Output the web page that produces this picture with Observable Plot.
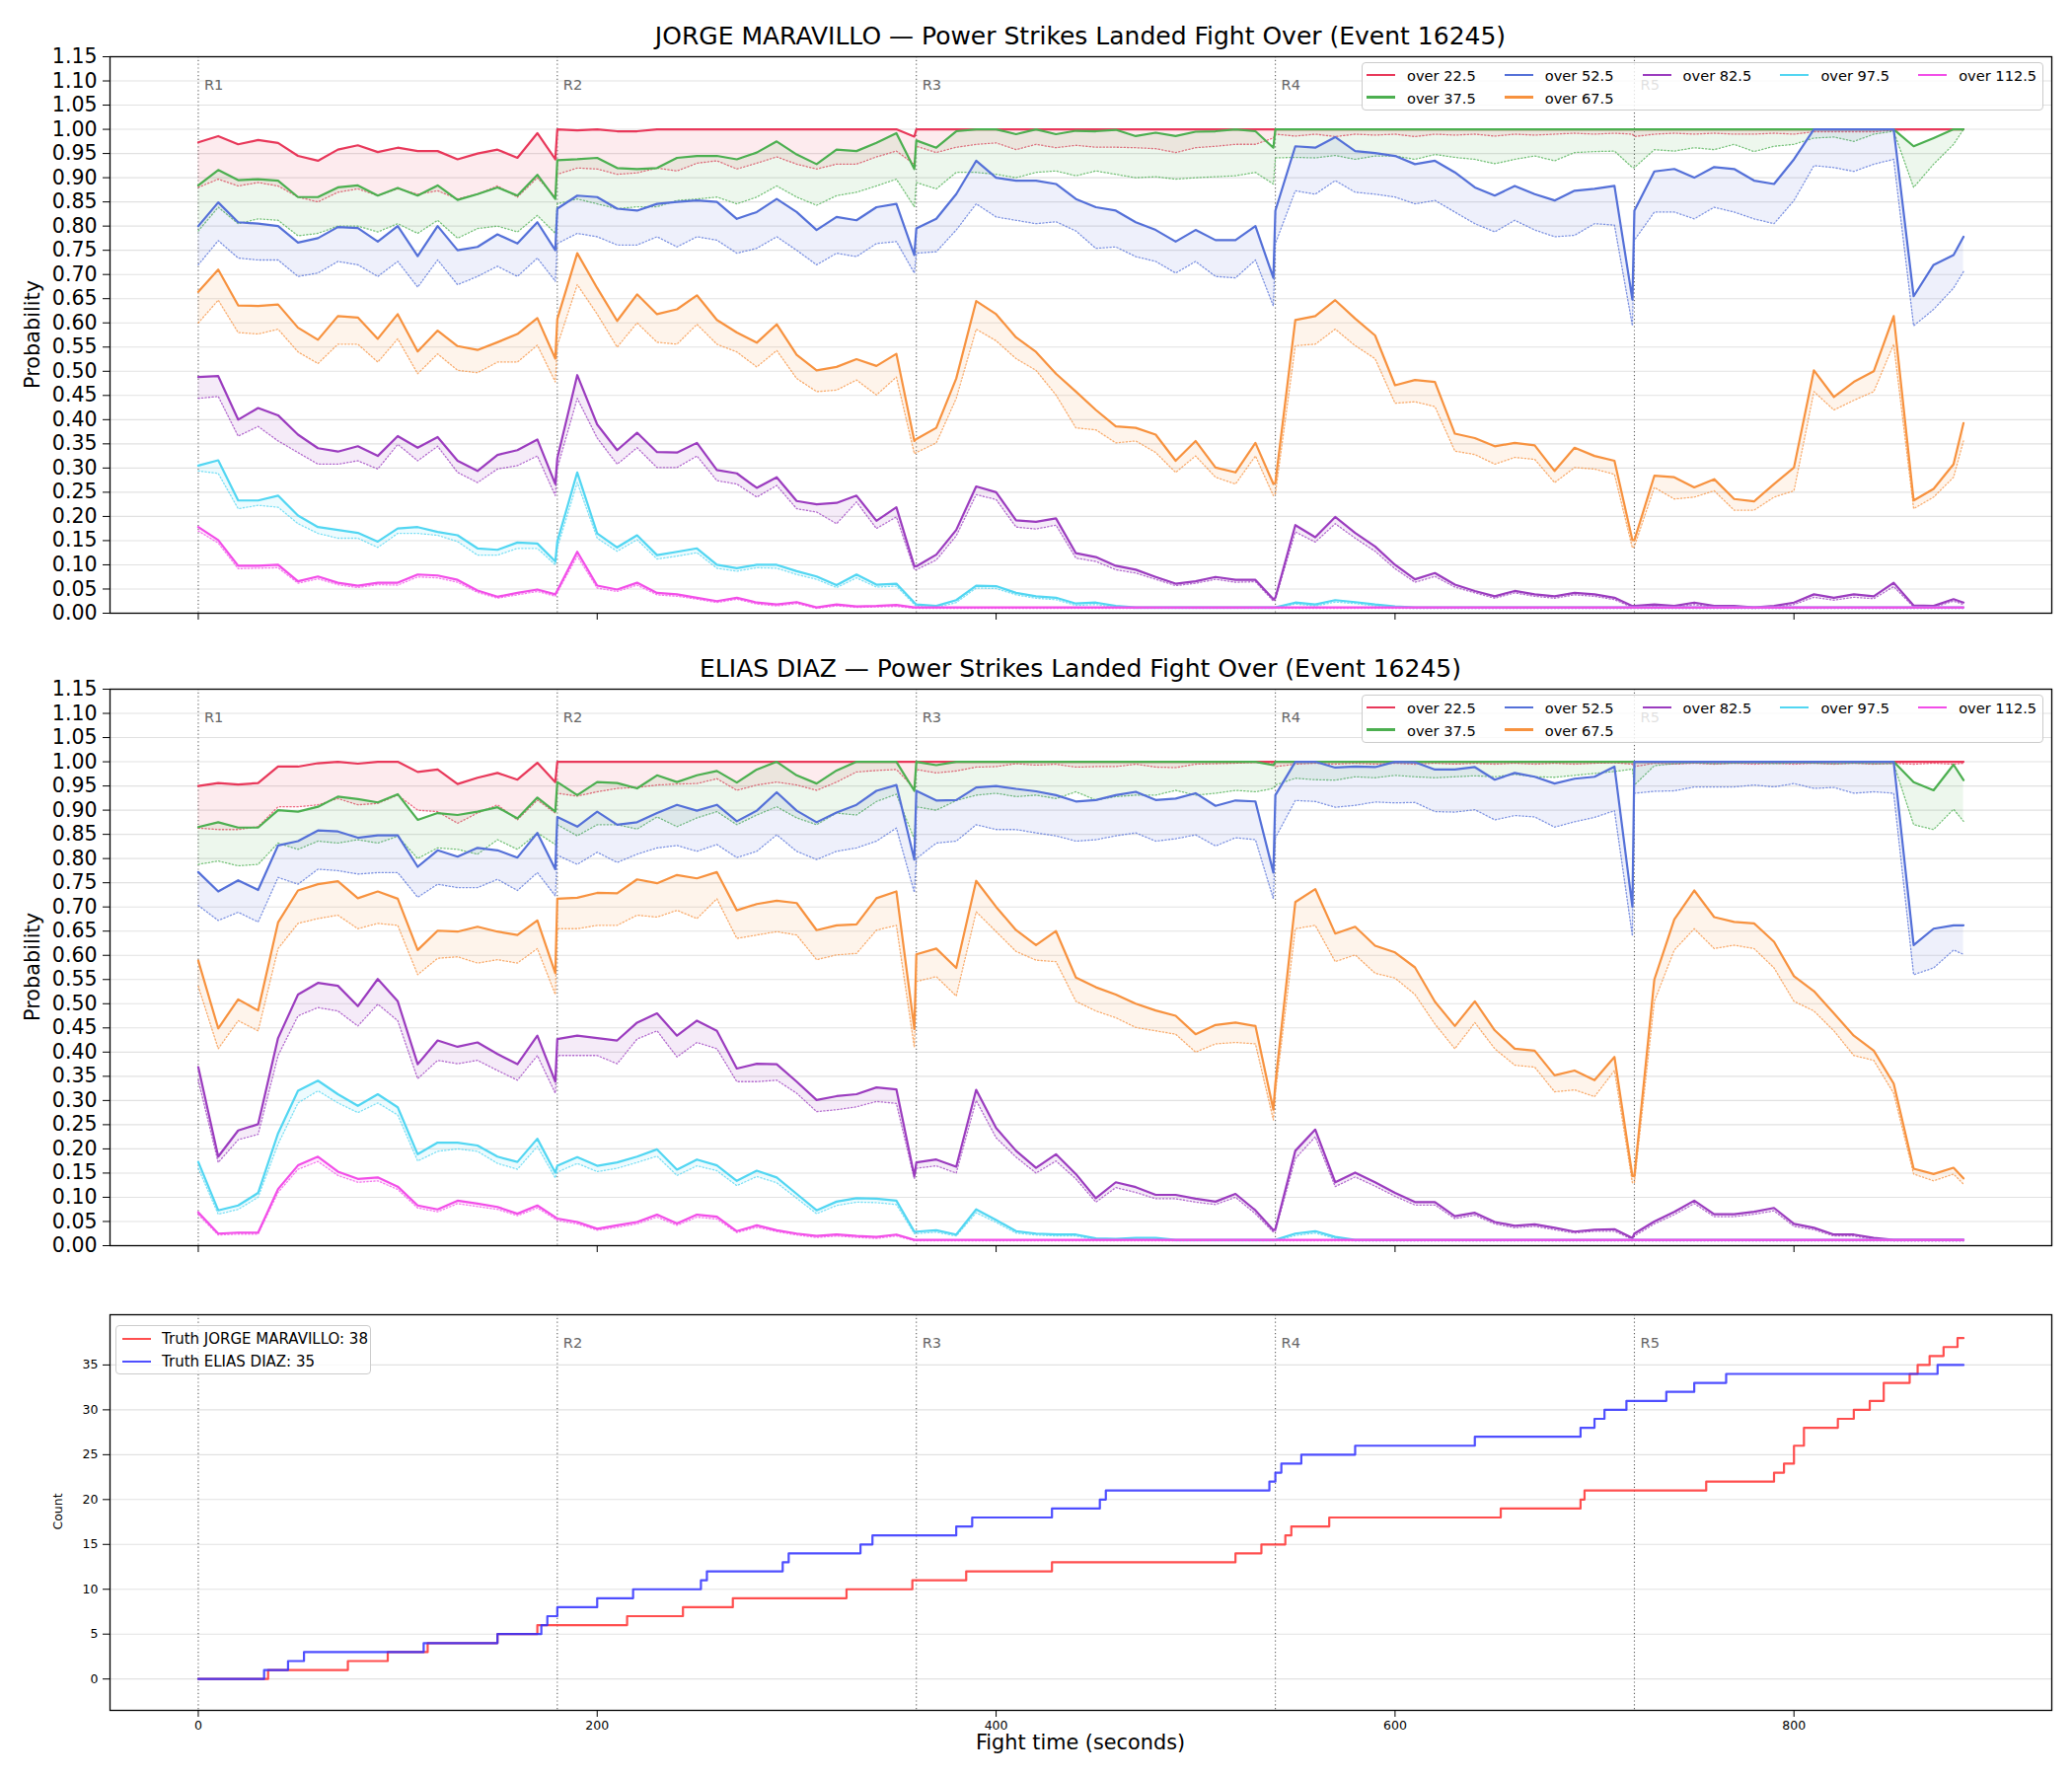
<!DOCTYPE html>
<html><head><meta charset="utf-8">
<script src="https://cdn.jsdelivr.net/npm/d3@7"></script>
<script src="https://cdn.jsdelivr.net/npm/@observablehq/plot@0.6"></script>
<style>
body{margin:0;background:#fff;font-family:"DejaVu Sans",sans-serif;}
#fig{position:relative;width:2100px;height:1800px;overflow:hidden;background:#fff;}
#fig svg{position:absolute;left:0;overflow:visible;}
.t{position:absolute;white-space:nowrap;color:#000;font-family:"DejaVu Sans",sans-serif;}
.ctr{transform:translate(-50%,-50%);}
.rot{transform:translate(-50%,-50%) rotate(-90deg);}
.leg{position:absolute;background:rgba(255,255,255,0.8);border:1px solid #cccccc;border-radius:4px;box-sizing:border-box;}
.li{position:absolute;height:0;}
.li .ln{position:absolute;left:0;top:-1.1px;height:2.2px;}
.li .tx{position:absolute;top:0;transform:translateY(-50%);white-space:nowrap;color:#000;}
</style></head><body><div id="fig"></div>
<script>
// ---------------- data ----------------
const SERIES = ["over 22.5","over 37.5","over 52.5","over 67.5","over 82.5","over 97.5","over 112.5"];
const COLORS = ["#e8385a","#4caf50","#5470d8","#f7923f","#9b3cbf","#52d6f2","#f24ee8"];
const PROB_TICKS = [0,0.05,0.10,0.15,0.20,0.25,0.30,0.35,0.40,0.45,0.50,0.55,0.60,0.65,0.70,0.75,0.80,0.85,0.90,0.95,1.00,1.05,1.10,1.15];
const X_TICKS = [0,200,400,600,800];
const COUNT_TICKS = [0,5,10,15,20,25,30,35];
const ROUND_T = [0,180,360,540,720];
const ROUND_LABELS = ["R1","R2","R3","R4","R5"];

const T = [0,10,20,30,40,50,60,70,80,90,100,110,120,130,140,150,160,170,179,
180,190,200,210,220,230,240,250,260,270,280,290,300,310,320,330,340,350,359,
360,370,380,390,400,410,420,430,440,450,460,470,480,490,500,510,520,530,539,
540,550,560,570,580,590,600,610,620,630,640,650,660,670,680,690,700,710,719,
720,730,740,750,760,770,780,790,800,810,820,830,840,850,860,870,880,885];

// ---- JORGE MARAVILLO ----
const jm_225 = [
0.973,0.986,0.969,0.978,0.972,0.945,0.935,0.958,0.967,0.953,0.962,0.955,0.955,0.938,0.950,0.958,0.941,0.992,0.938,
1,0.998,1,0.996,0.996,1,1,1,1,1,1,1,1,1,1,1,1,1,0.985,
1,1,1,1,1,1,1,1,1,1,1,1,1,1,1,1,1,1,1,
1,1,1,1,1,1,1,1,1,1,1,1,1,1,1,1,1,1,1,
1,1,1,1,1,1,1,1,1,1,1,1,1,1,1,1,1,1];
const jm_225_lo = [
0.88,0.897,0.883,0.89,0.883,0.86,0.85,0.87,0.877,0.863,0.877,0.866,0.873,0.856,0.866,0.883,0.86,0.90,0.86,
0.907,0.92,0.918,0.907,0.91,0.92,0.914,0.93,0.935,0.918,0.93,0.943,0.928,0.918,0.928,0.928,0.943,0.955,0.928,
0.965,0.952,0.963,0.969,0.972,0.958,0.969,0.962,0.967,0.963,0.963,0.962,0.96,0.952,0.962,0.965,0.969,0.969,0.982,
0.99,0.986,0.99,0.985,0.99,0.988,0.99,0.985,0.99,0.988,0.99,0.986,0.99,0.988,0.99,0.992,0.99,0.992,0.99,
0.985,0.99,0.992,0.99,0.992,0.99,0.99,0.992,0.99,0.995,0.995,0.995,0.995,0.998,1,1,1,1];
const jm_375 = [
0.884,0.916,0.895,0.897,0.894,0.86,0.86,0.88,0.884,0.863,0.879,0.863,0.884,0.854,0.866,0.88,0.863,0.906,0.856,
0.936,0.938,0.941,0.92,0.918,0.92,0.941,0.945,0.945,0.938,0.952,0.975,0.948,0.928,0.958,0.955,0.972,0.992,0.918,
0.977,0.962,0.996,1,1,0.99,1,0.99,0.997,0.996,0.999,0.986,0.993,0.986,0.995,0.996,1,0.996,0.962,
1,1,1,1,1,1,1,1,1,1,1,1,1,1,1,1,1,1,1,
1,1,1,1,1,1,1,1,1,1,1,1,1,1,0.965,0.982,1,1];
const jm_375_lo = [
0.79,0.839,0.805,0.815,0.812,0.78,0.785,0.80,0.80,0.788,0.805,0.785,0.812,0.775,0.795,0.80,0.788,0.822,0.785,
0.846,0.856,0.846,0.836,0.84,0.84,0.853,0.856,0.86,0.846,0.86,0.883,0.86,0.843,0.863,0.87,0.883,0.897,0.84,
0.89,0.877,0.911,0.911,0.907,0.90,0.911,0.914,0.904,0.914,0.907,0.90,0.902,0.897,0.90,0.902,0.904,0.911,0.887,
0.941,0.942,0.941,0.946,0.938,0.945,0.945,0.938,0.948,0.942,0.938,0.929,0.938,0.945,0.935,0.952,0.954,0.955,0.921,
0.921,0.958,0.955,0.962,0.958,0.969,0.954,0.965,0.969,0.982,0.984,0.975,0.99,0.996,0.88,0.928,0.969,1.0];
const jm_525 = [
0.80,0.849,0.808,0.805,0.80,0.766,0.775,0.798,0.796,0.768,0.80,0.738,0.80,0.75,0.757,0.783,0.764,0.808,0.75,
0.836,0.863,0.86,0.836,0.832,0.846,0.85,0.853,0.85,0.815,0.829,0.856,0.829,0.792,0.819,0.812,0.839,0.846,0.74,
0.795,0.815,0.866,0.935,0.90,0.894,0.894,0.887,0.856,0.839,0.832,0.808,0.792,0.768,0.792,0.771,0.771,0.80,0.693,
0.832,0.965,0.962,0.984,0.955,0.951,0.945,0.928,0.935,0.911,0.88,0.863,0.883,0.866,0.853,0.873,0.877,0.883,0.648,
0.832,0.913,0.918,0.90,0.922,0.918,0.894,0.887,0.938,1,1,1,1,1,0.655,0.72,0.74,0.778];
const jm_525_lo = [
0.72,0.77,0.734,0.73,0.73,0.696,0.703,0.727,0.72,0.696,0.727,0.674,0.73,0.679,0.696,0.717,0.696,0.734,0.686,
0.764,0.785,0.778,0.761,0.761,0.778,0.757,0.778,0.771,0.744,0.754,0.778,0.75,0.72,0.744,0.737,0.764,0.768,0.703,
0.744,0.747,0.792,0.846,0.819,0.812,0.805,0.809,0.79,0.754,0.757,0.737,0.727,0.703,0.727,0.696,0.693,0.73,0.635,
0.764,0.873,0.866,0.894,0.87,0.866,0.86,0.846,0.853,0.829,0.805,0.788,0.812,0.792,0.778,0.781,0.805,0.802,0.594,
0.771,0.829,0.829,0.815,0.839,0.829,0.815,0.805,0.853,0.925,0.921,0.913,0.928,0.938,0.594,0.628,0.672,0.706];
const jm_675 = [
0.664,0.71,0.636,0.635,0.638,0.59,0.565,0.614,0.611,0.567,0.618,0.541,0.584,0.552,0.544,0.56,0.577,0.61,0.526,
0.608,0.744,0.672,0.604,0.659,0.618,0.628,0.657,0.606,0.58,0.559,0.597,0.534,0.502,0.509,0.525,0.511,0.536,0.356,
0.36,0.383,0.485,0.645,0.618,0.57,0.54,0.495,0.458,0.42,0.386,0.383,0.369,0.315,0.356,0.301,0.291,0.352,0.267,
0.27,0.606,0.614,0.647,0.609,0.574,0.471,0.482,0.478,0.371,0.362,0.345,0.352,0.347,0.294,0.342,0.325,0.315,0.151,
0.151,0.284,0.281,0.26,0.277,0.236,0.231,0.267,0.301,0.502,0.447,0.478,0.50,0.614,0.233,0.257,0.308,0.393];
const jm_675_lo = [
0.60,0.647,0.58,0.577,0.587,0.54,0.516,0.556,0.556,0.519,0.567,0.495,0.536,0.502,0.497,0.519,0.519,0.554,0.478,
0.553,0.679,0.618,0.55,0.60,0.56,0.556,0.597,0.556,0.54,0.509,0.543,0.485,0.458,0.461,0.482,0.451,0.488,0.33,
0.332,0.352,0.444,0.587,0.563,0.526,0.502,0.451,0.383,0.379,0.352,0.356,0.332,0.291,0.325,0.281,0.267,0.325,0.243,
0.247,0.553,0.556,0.587,0.553,0.526,0.434,0.437,0.427,0.335,0.328,0.308,0.322,0.318,0.27,0.301,0.298,0.287,0.135,
0.138,0.26,0.236,0.24,0.253,0.213,0.213,0.24,0.253,0.458,0.42,0.44,0.458,0.556,0.216,0.24,0.281,0.356];
const jm_825 = [
0.488,0.49,0.40,0.424,0.409,0.369,0.341,0.334,0.345,0.325,0.366,0.342,0.364,0.315,0.294,0.327,0.337,0.359,0.267,
0.32,0.492,0.39,0.337,0.373,0.333,0.332,0.352,0.296,0.289,0.259,0.281,0.232,0.225,0.228,0.243,0.191,0.219,0.097,
0.097,0.121,0.172,0.262,0.25,0.192,0.189,0.196,0.124,0.116,0.098,0.09,0.075,0.061,0.066,0.075,0.069,0.069,0.029,
0.032,0.182,0.157,0.199,0.166,0.138,0.10,0.07,0.083,0.059,0.046,0.035,0.046,0.039,0.035,0.042,0.039,0.032,0.015,
0.015,0.018,0.015,0.022,0.015,0.015,0.012,0.015,0.022,0.039,0.032,0.039,0.035,0.063,0.016,0.015,0.029,0.022];
const jm_825_lo = [
0.444,0.448,0.366,0.386,0.356,0.332,0.308,0.308,0.315,0.298,0.349,0.315,0.345,0.291,0.27,0.298,0.305,0.325,0.243,
0.30,0.444,0.362,0.308,0.342,0.301,0.301,0.325,0.274,0.267,0.24,0.264,0.216,0.209,0.185,0.23,0.175,0.199,0.09,
0.09,0.11,0.16,0.245,0.235,0.178,0.174,0.182,0.114,0.107,0.09,0.083,0.07,0.057,0.062,0.07,0.064,0.065,0.025,
0.028,0.168,0.147,0.185,0.155,0.128,0.092,0.064,0.076,0.054,0.042,0.031,0.042,0.035,0.031,0.038,0.035,0.028,0.012,
0.012,0.014,0.012,0.018,0.012,0.012,0.01,0.012,0.018,0.033,0.027,0.033,0.03,0.055,0.013,0.012,0.025,0.018];
const jm_975 = [
0.305,0.316,0.233,0.233,0.243,0.202,0.178,0.172,0.166,0.148,0.175,0.178,0.168,0.161,0.134,0.131,0.146,0.144,0.107,
0.148,0.291,0.165,0.136,0.161,0.12,0.127,0.134,0.10,0.093,0.10,0.10,0.087,0.076,0.058,0.08,0.059,0.061,0.022,
0.018,0.015,0.027,0.057,0.056,0.042,0.035,0.032,0.02,0.022,0.015,0.012,0.012,0.012,0.012,0.012,0.012,0.012,0.012,
0.012,0.022,0.018,0.027,0.023,0.018,0.014,0.012,0.012,0.012,0.012,0.012,0.012,0.012,0.012,0.012,0.012,0.012,0.012,
0.012,0.012,0.012,0.012,0.012,0.012,0.012,0.012,0.012,0.012,0.012,0.012,0.012,0.012,0.012,0.012,0.012,0.012];
const jm_975_lo = [
0.294,0.289,0.216,0.223,0.219,0.185,0.165,0.155,0.155,0.136,0.165,0.165,0.161,0.148,0.12,0.12,0.134,0.134,0.10,
0.135,0.27,0.155,0.128,0.152,0.112,0.118,0.125,0.093,0.087,0.094,0.093,0.08,0.07,0.053,0.073,0.054,0.056,0.018,
0.014,0.012,0.022,0.052,0.051,0.038,0.031,0.028,0.016,0.018,0.012,0.01,0.01,0.01,0.01,0.01,0.01,0.01,0.01,
0.01,0.019,0.015,0.023,0.02,0.015,0.011,0.01,0.01,0.01,0.01,0.01,0.01,0.01,0.01,0.01,0.01,0.01,0.01,
0.01,0.01,0.01,0.01,0.01,0.01,0.01,0.01,0.01,0.01,0.01,0.01,0.01,0.01,0.01,0.01,0.01,0.01];
const jm_1125 = [
0.178,0.151,0.098,0.098,0.10,0.066,0.076,0.063,0.057,0.063,0.063,0.08,0.078,0.069,0.047,0.034,0.042,0.049,0.039,
0.047,0.127,0.057,0.049,0.063,0.042,0.039,0.032,0.025,0.032,0.022,0.018,0.023,0.012,0.018,0.014,0.015,0.017,0.012,
0.012,0.012,0.012,0.012,0.012,0.012,0.012,0.012,0.012,0.012,0.012,0.012,0.012,0.012,0.012,0.012,0.012,0.012,0.012,
0.012,0.012,0.012,0.012,0.012,0.012,0.012,0.012,0.012,0.012,0.012,0.012,0.012,0.012,0.012,0.012,0.012,0.012,0.012,
0.012,0.012,0.012,0.012,0.012,0.012,0.012,0.012,0.012,0.012,0.012,0.012,0.012,0.012,0.012,0.012,0.012,0.012];
const jm_1125_lo = [
0.17,0.145,0.092,0.093,0.094,0.062,0.071,0.059,0.053,0.059,0.058,0.075,0.073,0.064,0.043,0.031,0.038,0.045,0.035,
0.043,0.118,0.052,0.045,0.058,0.038,0.035,0.029,0.022,0.029,0.019,0.015,0.02,0.01,0.015,0.012,0.013,0.014,0.01,
0.01,0.01,0.01,0.01,0.01,0.01,0.01,0.01,0.01,0.01,0.01,0.01,0.01,0.01,0.01,0.01,0.01,0.01,0.01,
0.01,0.01,0.01,0.01,0.01,0.01,0.01,0.01,0.01,0.01,0.01,0.01,0.01,0.01,0.01,0.01,0.01,0.01,0.01,
0.01,0.01,0.01,0.01,0.01,0.01,0.01,0.01,0.01,0.01,0.01,0.01,0.01,0.01,0.01,0.01,0.01,0.01];

// ---- ELIAS DIAZ ----
const ed_225 = [
0.95,0.956,0.953,0.956,0.99,0.99,0.997,1,0.996,1,1,0.979,0.984,0.954,0.967,0.977,0.963,0.998,0.958,
1,1,1,1,1,1,1,1,1,1,1,1,1,1,1,1,1,1,1,
1,1,1,1,1,1,1,1,1,1,1,1,1,1,1,1,1,1,1,
1,1,1,1,1,1,1,1,1,1,1,1,1,1,1,1,1,1,1,
1,1,1,1,1,1,1,1,1,1,1,1,1,1,1,1,1,1];
const ed_225_lo = [
0.863,0.86,0.86,0.866,0.907,0.907,0.911,0.924,0.911,0.914,0.931,0.90,0.897,0.873,0.894,0.911,0.88,0.921,0.894,
0.935,0.929,0.938,0.945,0.947,0.952,0.954,0.955,0.965,0.941,0.952,0.958,0.952,0.941,0.958,0.979,0.982,0.984,0.945,
0.984,0.977,0.981,0.989,0.99,0.996,0.993,0.995,0.989,0.99,0.99,0.995,0.989,0.988,0.995,0.996,0.997,0.999,0.996,
0.99,0.995,0.997,0.995,0.997,0.995,0.997,0.995,0.997,0.995,0.997,0.995,0.997,0.995,0.997,0.995,0.997,0.998,0.995,
0.99,0.997,0.995,0.997,0.995,0.997,0.995,0.997,0.995,0.997,0.995,0.997,0.995,0.997,0.995,0.997,0.995,0.997];
const ed_375 = [
0.865,0.875,0.864,0.864,0.90,0.897,0.907,0.928,0.923,0.916,0.933,0.88,0.894,0.89,0.897,0.906,0.883,0.926,0.897,
0.958,0.931,0.958,0.956,0.945,0.972,0.958,0.972,0.981,0.957,0.984,1,0.972,0.955,0.982,1,1,1,0.94,
1,0.993,1,1,1,1,1,1,1,1,1,1,1,1,1,1,1,1,0.993,
1,1,1,1,1,1,1,1,1,1,1,1,1,1,1,1,1,1,1,
1,1,1,1,1,1,1,1,1,1,1,1,1,1,0.958,0.941,0.994,0.962];
const ed_375_lo = [
0.788,0.795,0.785,0.788,0.832,0.819,0.836,0.832,0.839,0.832,0.846,0.80,0.822,0.819,0.809,0.839,0.819,0.853,0.829,
0.87,0.847,0.87,0.87,0.861,0.886,0.866,0.884,0.897,0.87,0.89,0.907,0.884,0.87,0.894,0.89,0.918,0.933,0.84,
0.907,0.90,0.92,0.931,0.935,0.928,0.931,0.924,0.938,0.921,0.928,0.931,0.931,0.941,0.931,0.935,0.941,0.938,0.945,
0.952,0.966,0.963,0.962,0.969,0.967,0.972,0.969,0.967,0.969,0.971,0.969,0.974,0.969,0.968,0.972,0.976,0.98,0.985,
0.952,0.992,0.996,0.998,0.996,0.997,0.998,0.996,0.998,0.997,0.996,0.997,0.996,0.996,0.87,0.86,0.902,0.877];
const ed_525 = [
0.772,0.732,0.755,0.735,0.827,0.836,0.858,0.856,0.843,0.848,0.848,0.783,0.817,0.804,0.822,0.817,0.802,0.853,0.778,
0.886,0.866,0.897,0.87,0.875,0.894,0.911,0.899,0.911,0.877,0.899,0.937,0.899,0.875,0.895,0.911,0.94,0.952,0.798,
0.94,0.92,0.921,0.947,0.95,0.944,0.939,0.931,0.918,0.921,0.931,0.938,0.921,0.924,0.935,0.909,0.92,0.918,0.771,
0.931,1,1,0.988,0.99,0.989,1,0.999,0.984,0.984,0.989,0.963,0.977,0.969,0.955,0.965,0.969,0.99,0.70,
1,1,1,1,1,1,1,1,1,1,1,1,1,1,0.621,0.655,0.662,0.662];
const ed_525_lo = [
0.703,0.672,0.689,0.669,0.761,0.747,0.778,0.775,0.768,0.771,0.771,0.72,0.747,0.74,0.74,0.757,0.734,0.771,0.723,
0.807,0.788,0.813,0.792,0.809,0.822,0.827,0.815,0.829,0.802,0.815,0.849,0.815,0.798,0.815,0.822,0.836,0.863,0.73,
0.80,0.832,0.836,0.87,0.86,0.86,0.853,0.847,0.836,0.839,0.847,0.853,0.836,0.841,0.849,0.826,0.843,0.839,0.717,
0.843,0.92,0.918,0.906,0.91,0.917,0.915,0.916,0.897,0.896,0.901,0.88,0.889,0.886,0.865,0.876,0.885,0.899,0.64,
0.935,0.939,0.94,0.948,0.948,0.948,0.952,0.948,0.955,0.945,0.947,0.935,0.938,0.935,0.56,0.574,0.611,0.602];
const ed_675 = [
0.589,0.449,0.509,0.486,0.668,0.734,0.747,0.753,0.718,0.732,0.717,0.611,0.651,0.649,0.659,0.649,0.642,0.672,0.563,
0.717,0.719,0.729,0.728,0.757,0.749,0.766,0.759,0.772,0.693,0.706,0.713,0.708,0.652,0.662,0.664,0.718,0.732,0.448,
0.602,0.614,0.574,0.754,0.70,0.652,0.621,0.65,0.554,0.534,0.519,0.50,0.486,0.475,0.437,0.456,0.461,0.454,0.281,
0.335,0.71,0.737,0.645,0.659,0.62,0.606,0.575,0.504,0.454,0.505,0.445,0.407,0.403,0.352,0.362,0.342,0.39,0.144,
0.144,0.55,0.674,0.734,0.679,0.669,0.666,0.628,0.557,0.526,0.48,0.434,0.403,0.335,0.159,0.148,0.161,0.139];
const ed_675_lo = [
0.536,0.407,0.465,0.444,0.614,0.666,0.676,0.683,0.655,0.666,0.662,0.56,0.594,0.597,0.584,0.591,0.584,0.614,0.519,
0.655,0.655,0.662,0.662,0.683,0.679,0.693,0.676,0.717,0.635,0.642,0.649,0.642,0.591,0.601,0.604,0.652,0.662,0.41,
0.546,0.556,0.516,0.69,0.649,0.608,0.59,0.587,0.505,0.485,0.471,0.451,0.444,0.437,0.40,0.417,0.42,0.417,0.26,
0.315,0.655,0.662,0.587,0.601,0.563,0.553,0.519,0.458,0.407,0.461,0.407,0.373,0.369,0.318,0.322,0.308,0.362,0.13,
0.13,0.505,0.611,0.655,0.614,0.621,0.614,0.574,0.505,0.485,0.444,0.393,0.383,0.315,0.148,0.134,0.148,0.127];
const ed_825 = [
0.369,0.184,0.238,0.251,0.429,0.519,0.543,0.537,0.495,0.551,0.505,0.375,0.424,0.411,0.42,0.396,0.375,0.434,0.339,
0.427,0.434,0.429,0.424,0.461,0.48,0.434,0.465,0.444,0.366,0.376,0.375,0.339,0.301,0.309,0.313,0.327,0.323,0.144,
0.172,0.178,0.163,0.322,0.243,0.196,0.161,0.189,0.148,0.098,0.131,0.121,0.105,0.105,0.097,0.091,0.107,0.073,0.032,
0.034,0.196,0.24,0.131,0.151,0.131,0.109,0.09,0.09,0.061,0.068,0.049,0.041,0.044,0.037,0.029,0.033,0.034,0.016,
0.025,0.05,0.07,0.093,0.065,0.065,0.07,0.078,0.045,0.037,0.023,0.023,0.016,0.012,0.012,0.012,0.012,0.012];
const ed_825_lo = [
0.342,0.172,0.219,0.23,0.393,0.475,0.492,0.485,0.454,0.499,0.465,0.345,0.383,0.376,0.383,0.362,0.342,0.393,0.315,
0.393,0.393,0.393,0.376,0.427,0.444,0.39,0.42,0.407,0.339,0.339,0.342,0.315,0.277,0.281,0.287,0.298,0.294,0.138,
0.16,0.165,0.15,0.30,0.223,0.183,0.15,0.175,0.138,0.09,0.12,0.11,0.097,0.097,0.09,0.085,0.1,0.066,0.028,
0.03,0.18,0.225,0.122,0.142,0.123,0.102,0.084,0.084,0.056,0.063,0.045,0.037,0.04,0.033,0.026,0.03,0.03,0.013,
0.02,0.045,0.064,0.087,0.06,0.06,0.065,0.072,0.04,0.033,0.02,0.02,0.013,0.01,0.01,0.01,0.01,0.01];
const ed_975 = [
0.173,0.073,0.083,0.109,0.232,0.32,0.341,0.313,0.289,0.313,0.286,0.189,0.213,0.213,0.207,0.184,0.173,0.221,0.151,
0.165,0.183,0.165,0.172,0.184,0.199,0.157,0.178,0.166,0.134,0.155,0.141,0.107,0.073,0.091,0.098,0.097,0.093,0.029,
0.029,0.032,0.023,0.075,0.053,0.03,0.025,0.023,0.023,0.015,0.014,0.016,0.016,0.012,0.012,0.012,0.012,0.012,0.012,
0.012,0.025,0.03,0.018,0.012,0.012,0.012,0.012,0.012,0.012,0.012,0.012,0.012,0.012,0.012,0.012,0.012,0.012,0.012,
0.012,0.012,0.012,0.012,0.012,0.012,0.012,0.012,0.012,0.012,0.012,0.012,0.012,0.012,0.012,0.012,0.012,0.012];
const ed_975_lo = [
0.16,0.065,0.075,0.10,0.21,0.295,0.32,0.295,0.275,0.295,0.27,0.175,0.195,0.20,0.195,0.17,0.158,0.205,0.14,
0.152,0.17,0.153,0.16,0.172,0.185,0.145,0.165,0.155,0.124,0.143,0.13,0.098,0.066,0.083,0.09,0.089,0.085,0.025,
0.025,0.028,0.02,0.068,0.048,0.026,0.022,0.02,0.02,0.012,0.011,0.013,0.013,0.01,0.01,0.01,0.01,0.01,0.01,
0.01,0.021,0.026,0.015,0.01,0.01,0.01,0.01,0.01,0.01,0.01,0.01,0.01,0.01,0.01,0.01,0.01,0.01,0.01,
0.01,0.01,0.01,0.01,0.01,0.01,0.01,0.01,0.01,0.01,0.01,0.01,0.01,0.01,0.01,0.01,0.01,0.01];
const ed_1125 = [
0.069,0.025,0.027,0.027,0.117,0.166,0.184,0.153,0.138,0.141,0.122,0.083,0.075,0.093,0.087,0.08,0.066,0.083,0.059,
0.056,0.049,0.035,0.042,0.049,0.064,0.046,0.064,0.06,0.03,0.042,0.032,0.025,0.02,0.023,0.02,0.018,0.023,0.012,
0.012,0.012,0.012,0.012,0.012,0.012,0.012,0.012,0.012,0.012,0.012,0.012,0.012,0.012,0.012,0.012,0.012,0.012,0.012,
0.012,0.012,0.012,0.012,0.012,0.012,0.012,0.012,0.012,0.012,0.012,0.012,0.012,0.012,0.012,0.012,0.012,0.012,0.012,
0.012,0.012,0.012,0.012,0.012,0.012,0.012,0.012,0.012,0.012,0.012,0.012,0.012,0.012,0.012,0.012,0.012,0.012];
const ed_1125_lo = [
0.064,0.022,0.024,0.024,0.11,0.158,0.174,0.145,0.131,0.134,0.116,0.078,0.07,0.087,0.081,0.075,0.062,0.078,0.055,
0.052,0.045,0.032,0.038,0.045,0.059,0.042,0.059,0.055,0.027,0.038,0.029,0.022,0.017,0.02,0.017,0.015,0.02,0.01,
0.01,0.01,0.01,0.01,0.01,0.01,0.01,0.01,0.01,0.01,0.01,0.01,0.01,0.01,0.01,0.01,0.01,0.01,0.01,
0.01,0.01,0.01,0.01,0.01,0.01,0.01,0.01,0.01,0.01,0.01,0.01,0.01,0.01,0.01,0.01,0.01,0.01,0.01,
0.01,0.01,0.01,0.01,0.01,0.01,0.01,0.01,0.01,0.01,0.01,0.01,0.01,0.01,0.01,0.01,0.01,0.01];

// ---- cumulative truth counts (step change points) ----
const jmCountT = [0,35,75,95,115,150,170,215,243,268,325,358,385,428,520,533,545,548,567,653,693,695,756,790,795,800,805,822,830,838,845,858,862,868,875,882,885];
const jmCount  = [0,1,2,3,4,5,6,7,8,9,10,11,12,13,14,15,16,17,18,19,20,21,22,23,24,26,28,29,30,31,33,34,35,36,37,38,38];
const edCountT = [0,33,45,53,113,150,172,175,180,200,218,252,255,293,296,332,338,380,388,428,452,455,537,540,543,553,580,640,693,700,705,716,736,750,766,872,885];
const edCount  = [0,1,2,3,4,5,6,7,8,9,10,11,12,13,14,15,16,17,18,19,20,21,22,23,24,25,26,27,28,29,30,31,32,33,34,35,35];

// ---------------- drawing ----------------
const fig = document.getElementById("fig");
const FONT = "DejaVu Sans";
const XDOM = [-44.25, 929.25];
const ML = 111, MR = 21;

function addText(txt, x, y, size, cls) {
  const d = document.createElement("div");
  d.className = "t " + cls;
  d.textContent = txt;
  d.style.left = x + "px"; d.style.top = y + "px"; d.style.fontSize = size + "px";
  fig.appendChild(d);
  return d;
}

function roundMarks(withFirstLabel) {
  const rr = ROUND_T.map((t, i) => ({t, label: ROUND_LABELS[i]}));
  const lab = withFirstLabel ? rr : rr.slice(1);
  return [
    Plot.ruleX(rr, {x: "t", stroke: "#444", strokeWidth: 1.1, strokeDasharray: "1.2,2.6", strokeOpacity: 0.85}),
    Plot.text(lab, {x: "t", text: "label", frameAnchor: "top", dy: 23, dx: 6, textAnchor: "start", fill: "#666", fontSize: 14.6})
  ];
}

function probPanel(top, solids, lows) {
  const marks = [
    Plot.ruleY(PROB_TICKS, {stroke: "#b0b0b0", strokeOpacity: 0.38, strokeWidth: 1.1}),
    ...roundMarks(true)
  ];
  solids.forEach((arr, k) => {
    const rows = T.map((t, i) => ({t, v: arr[i], lo: lows[k][i]}));
    marks.push(Plot.areaY(rows, {x: "t", y1: "lo", y2: "v", fill: COLORS[k], fillOpacity: 0.1}));
    marks.push(Plot.line(rows, {x: "t", y: "lo", stroke: COLORS[k], strokeWidth: 1.3, strokeDasharray: "1.3,2.2", strokeOpacity: 0.75}));
    marks.push(Plot.line(rows, {x: "t", y: "v", stroke: COLORS[k], strokeWidth: 2.2, strokeLinejoin: "round"}));
  });
  marks.push(Plot.axisY({ticks: PROB_TICKS, tickFormat: d => d.toFixed(2), tickSize: 7, tickPadding: 6, fontSize: 20.5, stroke: "#000", fill: "#000", label: null}));
  marks.push(Plot.axisX({ticks: X_TICKS, tickFormat: () => "", tickSize: 7, stroke: "#000", label: null}));
  marks.push(Plot.frame({stroke: "#000", strokeWidth: 1.3}));
  const svg = Plot.plot({
    width: 2100, height: 614, marginLeft: ML, marginRight: MR, marginTop: 20, marginBottom: 30,
    x: {domain: XDOM, label: null}, y: {domain: [0, 1.15], label: null},
    style: {fontFamily: FONT, background: "transparent", overflow: "visible", color: "#000"},
    marks
  });
  svg.style.top = (top - 20) + "px";
  fig.appendChild(svg);
}

function probLegend(top) {
  const box = document.createElement("div");
  box.className = "leg";
  Object.assign(box.style, {left: "1380px", top: top + "px", width: "691px", height: "49px"});
  SERIES.forEach((s, k) => {
    const col = k < 4 ? Math.floor(k / 2) : k - 2;
    const row = k < 4 ? k % 2 : 0;
    const it = document.createElement("div");
    it.className = "li";
    it.style.left = (4 + col * 139.8) + "px";
    it.style.top = (12 + row * 22.5) + "px";
    it.innerHTML = `<div class="ln" style="width:29px;background:${COLORS[k]}"></div><div class="tx" style="left:41px;font-size:14.6px">${s}</div>`;
    box.appendChild(it);
  });
  fig.appendChild(box);
}

function countPanel(top) {
  const H = 401;
  const red = jmCountT.map((t, i) => ({t, c: jmCount[i]}));
  const blue = edCountT.map((t, i) => ({t, c: edCount[i]}));
  const svg = Plot.plot({
    width: 2100, height: H + 20 + 60, marginLeft: ML, marginRight: MR, marginTop: 20, marginBottom: 60,
    x: {domain: XDOM, label: null}, y: {domain: [-3.5, 40.6], label: null},
    style: {fontFamily: FONT, background: "transparent", overflow: "visible", color: "#000"},
    marks: [
      Plot.ruleY(COUNT_TICKS, {stroke: "#b0b0b0", strokeOpacity: 0.38, strokeWidth: 1.1}),
      ...roundMarks(false),
      Plot.line(red, {x: "t", y: "c", curve: "step-after", stroke: "#ff3030", strokeOpacity: 0.85, strokeWidth: 2.2}),
      Plot.line(blue, {x: "t", y: "c", curve: "step-after", stroke: "#3030ff", strokeOpacity: 0.85, strokeWidth: 2.2}),
      Plot.axisY({ticks: COUNT_TICKS, tickSize: 7, tickPadding: 5, fontSize: 12.5, stroke: "#000", fill: "#000", label: null}),
      Plot.axisX({ticks: X_TICKS, tickSize: 7, tickPadding: 4, fontSize: 12.5, stroke: "#000", fill: "#000", label: null}),
      Plot.frame({stroke: "#000", strokeWidth: 1.3})
    ]
  });
  svg.style.top = (top - 20) + "px";
  fig.appendChild(svg);

  const box = document.createElement("div");
  box.className = "leg";
  Object.assign(box.style, {left: "117px", top: "1343px", width: "259px", height: "50px"});
  [["Truth JORGE MARAVILLO: 38", "#ff3030"], ["Truth ELIAS DIAZ: 35", "#3030ff"]].forEach(([s, c], r) => {
    const it = document.createElement("div");
    it.className = "li";
    it.style.left = "6px";
    it.style.top = (13 + r * 23) + "px";
    it.innerHTML = `<div class="ln" style="width:29px;background:${c};opacity:0.85"></div><div class="tx" style="left:40px;font-size:15px">${s}</div>`;
    box.appendChild(it);
  });
  fig.appendChild(box);
}

probPanel(57, [jm_225, jm_375, jm_525, jm_675, jm_825, jm_975, jm_1125],
              [jm_225_lo, jm_375_lo, jm_525_lo, jm_675_lo, jm_825_lo, jm_975_lo, jm_1125_lo]);
probPanel(698, [ed_225, ed_375, ed_525, ed_675, ed_825, ed_975, ed_1125],
               [ed_225_lo, ed_375_lo, ed_525_lo, ed_675_lo, ed_825_lo, ed_975_lo, ed_1125_lo]);
countPanel(1332);
probLegend(63);
probLegend(704);

const XC = (ML + 2100 - MR) / 2;
addText("JORGE MARAVILLO \u2014 Power Strikes Landed Fight Over (Event 16245)", XC, 36, 25, "ctr");
addText("ELIAS DIAZ \u2014 Power Strikes Landed Fight Over (Event 16245)", XC, 677, 25, "ctr");
addText("Probability", 33, 339, 20.8, "rot");
addText("Probability", 33, 980, 20.8, "rot");
addText("Count", 58, 1532, 12.5, "rot");
addText("Fight time (seconds)", XC, 1766, 20.8, "ctr");
</script></body></html>
